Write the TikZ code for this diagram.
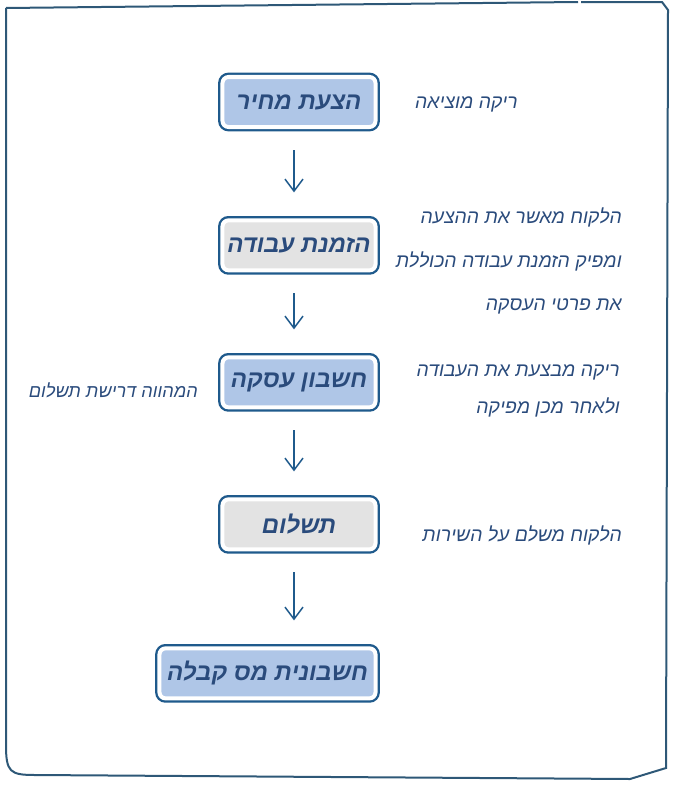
\documentclass[tikz,border=0pt]{standalone}
\usepackage{fontspec}
\newfontfamily\hebfont[Script=Hebrew]{Liberation Sans}
\TeXXeTstate=1
\usetikzlibrary{arrows.meta, positioning}
\definecolor{edge}{HTML}{1F5A8C}
\definecolor{ink}{HTML}{2A4B7C}
\definecolor{bluefill}{HTML}{AFC6E7}
\definecolor{greyfill}{HTML}{E3E3E3}
\definecolor{framecol}{HTML}{2E5877}
\newcommand{\heb}[1]{\beginR #1\endR}

\begin{document}
\begin{tikzpicture}[x=0.03cm, y=-0.03cm, >={Straight Barb[length=3.6mm, width=5.4mm]},
  box/.style={rounded corners=1.8mm, draw=white, line width=0.12cm,
    preaction={draw=edge, line width=0.26cm}, text=ink, inner sep=0pt, outer sep=0pt,
    minimum width=4.59cm, minimum height=1.5cm,
    font=\hebfont\fontsize{20.5}{24}\selectfont\bfseries\itshape},
  blue/.style={box, fill=bluefill},
  grey/.style={box, fill=greyfill},
  note/.style={text=ink, align=right, anchor=east, inner sep=0pt,
    font=\hebfont\fontsize{16.5}{37}\selectfont\itshape},
  arr/.style={->, draw=edge, line width=0.045cm, shorten <=0.69cm, shorten >=0.84cm}]
\useasboundingbox (0,0) rectangle (673,785);
% frame
\draw[framecol, line width=0.06cm]
  (6,8) -- (6,745) .. controls (6,772) and (10,775) .. (35,775) -- (630,779)
  -- (666,768) -- (668,10) -- (662,2) -- (581,2);
\draw[framecol, line width=0.06cm] (578,2) -- (6,8);
% steps
\node[blue] (quote) at (299,102) {\heb{הצעת מחיר}};
\node[grey, below=2.80cm of quote] (order) {\heb{הזמנת עבודה}};
\node[blue, below=2.61cm of order] (deal) {\heb{חשבון עסקה}};
\node[grey, below=2.76cm of deal] (pay) {\heb{תשלום}};
\node[blue, minimum width=6.48cm, below=2.97cm of pay.south east, anchor=north east] (receipt) {\heb{חשבונית מס קבלה}};
% notes
\node[note] (quoteNote) at (518,104) {\heb{ריקה מוציאה}};
\node[note] (orderNote) at (622,261) {\heb{הלקוח מאשר את ההצעה}\\\heb{ומפיק הזמנת עבודה הכוללת}\\\heb{את פרטי העסקה}};
\node[note, font=\hebfont\fontsize{15.5}{37}\selectfont\itshape] (dealLeft) at (198,390) {\heb{המהווה דרישת תשלום}};
\node[note, font=\hebfont\fontsize{16.5}{32}\selectfont\itshape] (dealNote) at (620,391) {\heb{ריקה מבצעת את העבודה}\\\heb{ולאחר מכן מפיקה}};
\node[note] (payNote) at (622,535) {\heb{הלקוח משלם על השירות}};
% arrows
\draw[arr] ([xshift=-1.5mm]quote.south) -- ([xshift=-1.5mm]order.north);
\draw[arr] ([xshift=-1.5mm]order.south) -- ([xshift=-1.5mm]deal.north);
\draw[arr] ([xshift=-1.5mm]deal.south) -- ([xshift=-1.5mm]pay.north);
\draw[arr] ([xshift=-1.5mm]pay.south) -- ([xshift=-1.5mm]pay.south |- receipt.north);
\end{tikzpicture}
\end{document}
